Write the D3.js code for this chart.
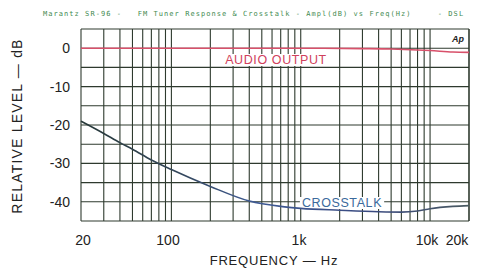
<!DOCTYPE html>
<html><head><meta charset="utf-8">
<script src="https://cdn.jsdelivr.net/npm/d3@7"></script>
<style>body{margin:0;background:#fff}svg{display:block}</style>
</head><body>
<svg id="c" width="477" height="270"></svg>
<script>
const titleText = "Marantz SR-96 -   FM Tuner Response & Crosstalk - Ampl(dB) vs Freq(Hz)     - DSL";
const xTickValues = [20, 100, 1000, 10000, 20000];
const xTickLabels = ["20", "100", "1k", "10k", "20k"];
const yTickValues = [0, -10, -20, -30, -40];
const yTickLabels = ["0", "-10", "-20", "-30", "-40"];
const crossFreq = [20, 30, 40, 50, 70, 100, 200, 400, 700, 1000, 2000, 4000, 6000, 8000, 10000, 15000, 20000];
const crossDb   = [-19, -22.2, -24.6, -26.3, -29.1, -31.6, -36, -39.8, -41.2, -41.7, -42.2, -42.6, -42.7, -42.4, -41.8, -41.2, -41];
const audioFreq = [20, 100, 1000, 3000, 5000, 10000, 15000, 20000];
const audioDb   = [0, 0, 0, -0.1, -0.2, -0.6, -1.0, -1.1];

const svg = d3.select("#c");
const x = d3.scaleLog().domain([20, 20000]).range([81, 469]);
const y = d3.scaleLinear().domain([-45, 5]).range([221, 29]);

// title
svg.append("text").attr("x", 43).attr("y", 16).attr("fill", "#3f8a50")
  .style("font-family", "'DejaVu Sans Mono', monospace").style("font-size", "7px")
  .style("letter-spacing", "1.05px")
  .attr("xml:space", "preserve").style("white-space", "pre").text(titleText);

// grid
const gridColor = "#2e3a2e";
const vLines = [];
[10, 100, 1000, 10000].forEach(d => { for (let k = 1; k <= 9; k++) { const f = d * k; if (f >= 20 && f <= 20000) vLines.push(f); } });
vLines.push(20000);
svg.append("g").selectAll("line").data(vLines).join("line")
  .attr("x1", d => x(d)).attr("x2", d => x(d)).attr("y1", y(5)).attr("y2", y(-45))
  .attr("stroke", gridColor).attr("stroke-width", 1.1);
svg.append("g").selectAll("line").data(d3.range(-45, 6, 5)).join("line")
  .attr("x1", x(20)).attr("x2", x(20000)).attr("y1", d => y(d)).attr("y2", d => y(d))
  .attr("stroke", gridColor).attr("stroke-width", 1.1);

// labels on white
function label(txt, cx, cy, color) {
  const t = svg.append("text").attr("x", cx).attr("y", cy).attr("text-anchor", "middle")
    .attr("fill", color).style("font-family", "'Liberation Sans', Arial, sans-serif")
    .style("font-size", "12.5px").style("letter-spacing", "0.6px").text(txt);
  const b = t.node().getBBox();
  svg.insert("rect", () => t.node()).attr("x", b.x - 2).attr("y", b.y + 1).attr("width", b.width + 4).attr("height", b.height - 2).attr("fill", "#fff");
}
label("AUDIO OUTPUT", 276, 64, "#d0405c");
label("CROSSTALK", 342, 207, "#3b6a9c");

// curves
const defs = svg.append("defs");
const grad = defs.append("linearGradient").attr("id", "g1").attr("gradientUnits", "userSpaceOnUse")
  .attr("x1", x(20)).attr("x2", x(20000)).attr("y1", 0).attr("y2", 0);
grad.append("stop").attr("offset", "0").attr("stop-color", "#263838");
grad.append("stop").attr("offset", "0.25").attr("stop-color", "#33465a");
grad.append("stop").attr("offset", "0.45").attr("stop-color", "#3e5a94");
grad.append("stop").attr("offset", "0.75").attr("stop-color", "#3a4a80");
grad.append("stop").attr("offset", "1").attr("stop-color", "#4a5a60");

const line = d3.line().x(d => x(d[0])).y(d => y(d[1])).curve(d3.curveMonotoneX);
svg.append("path").datum(crossFreq.map((f, i) => [f, crossDb[i]])).attr("d", line)
  .attr("fill", "none").attr("stroke", "url(#g1)").attr("stroke-width", 1.6);
svg.append("path").datum(audioFreq.map((f, i) => [f, audioDb[i]])).attr("d", line)
  .attr("fill", "none").attr("stroke", "#d8506a").attr("stroke-width", 1.6);

// Ap logo
svg.append("text").attr("x", 458).attr("y", 42).attr("text-anchor", "middle")
  .style("font-family", "'Liberation Sans', Arial, sans-serif").style("font-size", "9px")
  .style("font-style", "italic").style("font-weight", "bold").attr("fill", "#222").text("Ap");

// axes tick labels
const tf = "'Liberation Sans', Arial, sans-serif";
svg.append("g").selectAll("text").data(yTickValues).join("text")
  .attr("x", 70).attr("y", d => y(d) + 5).attr("text-anchor", "end")
  .style("font-family", tf).style("font-size", "14px").attr("fill", "#222")
  .text((d, i) => yTickLabels[i]);
const xLabelPos = [83, 168, 299, 427, 457];
svg.append("g").selectAll("text").data(xTickValues).join("text")
  .attr("x", (d, i) => xLabelPos[i] ?? x(d)).attr("y", 245).attr("text-anchor", "middle")
  .style("font-family", tf).style("font-size", "14px").attr("fill", "#222")
  .text((d, i) => xTickLabels[i]);

// axis titles
svg.append("text").attr("x", 274).attr("y", 265).attr("text-anchor", "middle")
  .style("font-family", tf).style("font-size", "13px").style("letter-spacing", "0.8px").attr("fill", "#222")
  .text("FREQUENCY — Hz");
svg.append("text").attr("transform", "translate(22,126) rotate(-90)").attr("text-anchor", "middle")
  .style("font-family", tf).style("font-size", "14px").style("letter-spacing", "1.2px").attr("fill", "#222")
  .text("RELATIVE LEVEL — dB");
</script>
</body></html>
